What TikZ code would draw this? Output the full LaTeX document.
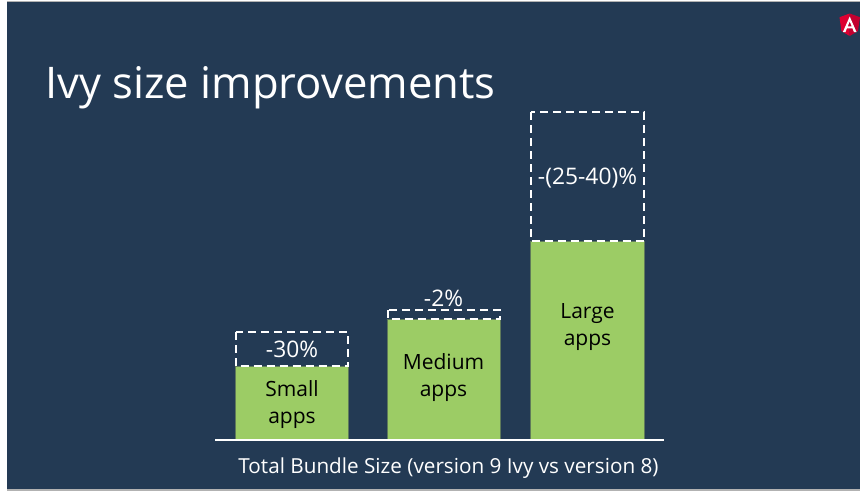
\documentclass[tikz,border=0pt]{standalone}
\usepackage{fontspec}
\setmainfont{Open Sans}
\definecolor{slidebg}{HTML}{233A54}
\definecolor{barfill}{HTML}{9CCC65}
\definecolor{barline}{HTML}{5F7A5A}
\definecolor{ngred}{HTML}{DD0031}
\definecolor{ngdark}{HTML}{C3002F}
\tikzset{
  barbox/.style={fill=barfill,draw=barline,line width=0.8pt},
  dashbox/.style={draw=white,dashed,dash pattern=on 8pt off 5pt,line width=2pt},
  barlabel/.style={text=black,font=\fontsize{21}{27}\selectfont,align=center},
  dashlabel/.style={text=white,font=\fontsize{22.8}{26}\selectfont,align=center}
}
\begin{document}
\begin{tikzpicture}[x=1pt,y=-1pt]
\useasboundingbox (0,0) rectangle (860,491);
\fill[white] (0,0) rectangle (860,491);
\fill[slidebg] (7,2) rectangle (860,489);
\fill[black!30] (7,0.5) rectangle (860,2);
\fill[black!30] (7,489) rectangle (860,490.5);
% logo
\fill[ngred] (849.7,13.5) -- (839.5,17.2) -- (841.4,31) -- (849.7,36) -- cycle;
\fill[ngdark] (849.7,13.5) -- (860,17.2) -- (858,31) -- (849.7,36) -- cycle;
\fill[white,even odd rule] (849.7,16.5) -- (842.9,32) -- (845.5,32) -- (846.9,28.4) -- (852.5,28.4) -- (853.9,32) -- (856.5,32) -- cycle
  (849.7,21.5) -- (851.7,26.3) -- (847.7,26.3) -- cycle;
% title
\node[anchor=base west,inner sep=0pt,text=white,font=\fontsize{43.6}{50}\selectfont] (title) at (45,98) {Ivy size improvements};
% bars
\path[barbox] (235.5,366) rectangle (348,439);
\path[barbox] (387.5,319) rectangle (500,439);
\path[barbox] (530.5,241) rectangle (644,439);
% dashed boxes
\path[dashbox] (235.5,332) rectangle (348,366);
\path[dashbox] (387.5,310) rectangle (500,319);
\path[dashbox] (530.5,112) rectangle (644,241);
% labels
\node[barlabel] (small) at (292,405) {Small\\apps};
\node[barlabel] (medium) at (443.5,378) {Medium\\apps};
\node[barlabel] (large) at (587.5,327) {Large\\apps};
\node[dashlabel] (d1) at (292,349.5) {-30\%};
\node[dashlabel] (d2) at (443.5,298) {-2\%};
\node[dashlabel] (d3) at (587.5,178) {-(25-40)\%};
% axis
\coordinate (axisl) at (215,439.5);
\coordinate (axisr) at (664,439.5);
\draw[white,line width=2pt] (axisl) -- (axisr);
\node[text=white,font=\fontsize{20.7}{24}\selectfont,inner sep=0pt] (axis) at (448.5,468) {Total Bundle Size (version 9 Ivy vs version 8)};
\end{tikzpicture}
\end{document}
